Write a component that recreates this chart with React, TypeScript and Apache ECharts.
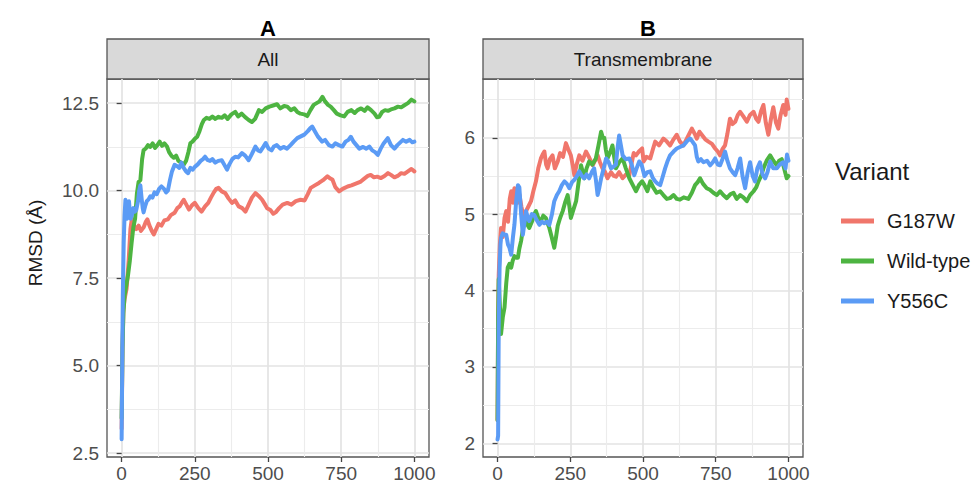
import React, { useEffect, useRef } from "react";
import * as echarts from "echarts";

const xTicks = [0, 250, 500, 750, 1000];
const xMinor = [125, 375, 625, 875];
const yTicksA = [2.5, 5.0, 7.5, 10.0, 12.5];
const yMinorA = [3.75, 6.25, 8.75, 11.25];
const yTicksB = [2, 3, 4, 5, 6];
const yMinorB = [2.5, 3.5, 4.5, 5.5, 6.5];
const variants = ["G187W", "Wild-type", "Y556C"];
const colors = ["#F0766B", "#4DB441", "#5B9BF5"];

const allG187W = [[0,3.2],[3,5.5],[6,6.6],[10,6.9],[17,7.2],[24,8.0],[30,8.9],[35,9.2],[42,9.0],[50,8.9],[58,9.0],[66,8.85],[75,8.95],[82,9.1],[88,9.18],[95,9.0],[103,8.85],[110,8.75],[118,8.9],[126,9.05],[136,9.0],[146,9.15],[158,9.18],[168,9.3],[181,9.37],[190,9.5],[198,9.55],[205,9.65],[212,9.74],[221,9.6],[230,9.46],[240,9.58],[250,9.65],[262,9.5],[273,9.4],[285,9.55],[296,9.65],[305,9.8],[315,9.95],[323,10.05],[331,10.08],[342,9.98],[354,9.93],[365,9.78],[377,9.65],[388,9.72],[400,9.55],[412,9.5],[423,9.4],[434,9.6],[445,9.8],[457,9.93],[468,9.85],[480,9.74],[490,9.6],[497,9.5],[508,9.45],[518,9.34],[526,9.38],[538,9.5],[550,9.6],[566,9.65],[580,9.6],[595,9.7],[611,9.74],[625,9.72],[636,9.9],[646,10.08],[660,10.15],[674,10.22],[688,10.3],[703,10.41],[712,10.35],[720,10.32],[730,10.1],[743,9.98],[755,10.05],[772,10.12],[785,10.15],[800,10.2],[817,10.26],[830,10.35],[841,10.42],[851,10.45],[862,10.38],[873,10.4],[886,10.36],[898,10.42],[910,10.5],[920,10.45],[932,10.38],[943,10.42],[955,10.5],[966,10.48],[978,10.55],[990,10.62],[1000,10.55]];
const allWild = [[0,3.5],[3,5.5],[6,6.5],[10,7.0],[16,7.3],[22,7.6],[28,8.0],[34,8.5],[40,8.95],[46,9.2],[52,9.9],[58,10.25],[64,10.3],[70,10.9],[75,11.16],[82,11.2],[90,11.3],[98,11.25],[106,11.35],[114,11.22],[122,11.3],[130,11.4],[138,11.28],[146,11.35],[155,11.26],[162,11.1],[170,11.0],[178,10.94],[186,11.0],[194,10.85],[203,10.8],[212,10.74],[220,10.85],[228,11.1],[235,11.36],[242,11.4],[250,11.48],[258,11.54],[266,11.7],[274,11.9],[281,12.02],[290,12.08],[300,12.05],[310,12.12],[320,12.05],[331,12.11],[342,12.08],[352,12.15],[362,12.05],[375,12.18],[388,12.25],[398,12.12],[410,12.2],[422,12.1],[434,12.02],[445,11.96],[456,12.05],[469,12.3],[480,12.25],[492,12.35],[505,12.4],[520,12.44],[531,12.47],[542,12.35],[555,12.42],[566,12.4],[578,12.3],[590,12.35],[600,12.25],[611,12.2],[623,12.18],[634,12.13],[645,12.3],[656,12.45],[666,12.5],[676,12.55],[686,12.68],[695,12.55],[705,12.45],[714,12.4],[725,12.3],[735,12.2],[748,12.15],[760,12.12],[772,12.25],[785,12.3],[796,12.22],[806,12.3],[818,12.35],[830,12.28],[840,12.38],[852,12.3],[864,12.2],[872,12.1],[880,12.11],[890,12.25],[900,12.3],[910,12.28],[920,12.32],[932,12.35],[944,12.4],[955,12.38],[966,12.44],[978,12.5],[990,12.6],[1000,12.55]];
const allY556C = [[0,2.9],[2,5.0],[4,7.0],[7,8.5],[10,9.3],[13,9.74],[16,9.6],[19,9.2],[22,9.5],[25,9.7],[28,9.4],[31,9.2],[35,9.3],[40,9.5],[45,9.4],[50,9.45],[56,9.7],[60,10.0],[64,10.15],[68,9.8],[72,9.5],[75,9.38],[80,9.55],[86,9.7],[92,9.75],[98,9.84],[105,9.8],[112,9.95],[120,9.9],[128,10.05],[136,10.12],[145,10.05],[152,9.95],[158,10.0],[165,10.3],[172,10.55],[181,10.74],[190,10.7],[197,10.65],[204,10.8],[212,10.65],[220,10.55],[227,10.5],[235,10.65],[243,10.6],[250,10.68],[260,10.75],[270,10.85],[278,10.9],[285,10.97],[293,10.88],[302,10.85],[310,10.9],[320,10.8],[330,10.85],[342,10.87],[350,10.75],[360,10.6],[368,10.75],[378,10.9],[388,10.97],[398,10.95],[411,11.07],[422,11.0],[434,10.87],[445,11.05],[457,11.26],[466,11.15],[474,11.12],[484,11.25],[492,11.36],[502,11.2],[512,11.15],[520,11.26],[530,11.3],[542,11.2],[553,11.25],[565,11.2],[577,11.3],[588,11.4],[600,11.5],[612,11.55],[624,11.6],[636,11.7],[644,11.78],[651,11.83],[660,11.7],[670,11.55],[685,11.4],[695,11.45],[708,11.3],[720,11.26],[730,11.35],[742,11.3],[754,11.26],[765,11.4],[775,11.45],[783,11.54],[792,11.4],[802,11.3],[812,11.2],[825,11.25],[836,11.2],[846,11.26],[856,11.15],[866,11.1],[875,11.02],[885,11.2],[895,11.35],[909,11.5],[920,11.3],[932,11.2],[942,11.3],[952,11.38],[961,11.45],[972,11.4],[984,11.45],[993,11.38],[1000,11.4]];

const tmG187W = [[0,2.3],[2,3.6],[4,4.2],[8,4.6],[12,4.82],[18,4.7],[24,4.95],[30,5.04],[36,4.9],[42,5.2],[47,5.3],[53,5.15],[58,5.34],[64,5.3],[70,5.15],[75,5.26],[82,5.1],[90,4.95],[98,5.04],[106,5.1],[115,5.17],[123,5.3],[132,5.43],[140,5.6],[149,5.73],[155,5.78],[161,5.82],[167,5.65],[172,5.6],[180,5.72],[189,5.77],[197,5.6],[207,5.69],[215,5.8],[225,5.75],[235,5.93],[243,5.85],[252,5.77],[258,5.65],[264,5.51],[272,5.65],[281,5.77],[292,5.7],[304,5.82],[314,5.75],[327,5.64],[335,5.7],[344,5.77],[352,5.68],[361,5.6],[370,5.55],[378,5.47],[390,5.55],[400,5.5],[407,5.49],[418,5.55],[430,5.47],[442,5.52],[453,5.51],[460,5.65],[468,5.8],[476,5.77],[486,5.82],[497,5.86],[502,5.69],[512,5.75],[525,5.73],[534,5.85],[542,5.95],[555,5.9],[570,5.99],[582,5.95],[593,5.9],[605,5.98],[616,6.04],[627,5.95],[639,5.9],[652,6.0],[668,6.12],[678,6.05],[685,5.99],[694,6.08],[702,6.04],[714,5.98],[725,5.95],[737,5.92],[748,5.86],[757,5.82],[765,5.77],[773,5.85],[782,5.9],[790,6.05],[799,6.25],[808,6.18],[817,6.21],[826,6.3],[834,6.34],[845,6.28],[857,6.21],[868,6.3],[880,6.34],[889,6.25],[897,6.21],[906,6.35],[914,6.43],[922,6.2],[931,6.04],[940,6.25],[948,6.4],[957,6.2],[965,6.12],[973,6.3],[982,6.43],[990,6.3],[994,6.5],[1000,6.38]];
const tmWild = [[0,2.3],[2,3.6],[4,4.15],[8,3.8],[12,3.43],[18,3.65],[24,3.78],[30,4.1],[35,4.3],[41,4.35],[47,4.3],[52,4.39],[58,4.45],[64,4.43],[70,4.43],[75,4.55],[81,4.65],[87,4.8],[92,4.95],[100,4.88],[109,4.82],[118,4.9],[126,5.0],[132,5.04],[140,4.95],[149,4.91],[157,4.98],[166,4.95],[172,4.88],[178,4.82],[186,4.7],[195,4.56],[201,4.7],[207,4.85],[215,4.95],[224,5.04],[232,5.15],[241,5.25],[247,5.1],[252,4.95],[260,5.05],[270,5.17],[278,5.4],[287,5.64],[293,5.55],[298,5.47],[306,5.6],[315,5.69],[326,5.65],[338,5.73],[347,5.9],[356,6.08],[362,6.0],[367,6.0],[372,5.85],[378,5.73],[386,5.8],[395,5.9],[401,5.75],[407,5.6],[418,5.68],[430,5.73],[441,5.6],[453,5.47],[465,5.38],[476,5.3],[486,5.38],[497,5.43],[505,5.38],[515,5.3],[525,5.43],[535,5.35],[547,5.28],[559,5.3],[570,5.25],[582,5.2],[593,5.21],[605,5.25],[616,5.2],[627,5.19],[640,5.22],[656,5.2],[668,5.28],[679,5.38],[688,5.42],[696,5.47],[706,5.4],[719,5.34],[730,5.32],[742,5.28],[754,5.25],[765,5.3],[776,5.25],[788,5.21],[800,5.26],[811,5.28],[822,5.2],[834,5.25],[845,5.22],[857,5.17],[868,5.25],[880,5.3],[889,5.35],[897,5.43],[906,5.5],[914,5.6],[925,5.7],[937,5.77],[948,5.7],[960,5.64],[968,5.7],[977,5.72],[985,5.6],[994,5.47],[1000,5.5]];
const tmY556C = [[0,2.05],[2,2.1],[4,3.5],[7,4.3],[10,4.6],[12,4.69],[18,4.75],[24,4.73],[30,4.73],[36,4.6],[41,4.56],[47,4.47],[53,4.7],[58,4.86],[64,5.17],[70,5.38],[75,5.35],[81,5.0],[87,4.73],[93,4.9],[98,5.04],[104,4.95],[109,4.91],[118,5.0],[126,4.99],[135,4.92],[144,4.86],[152,4.9],[161,4.88],[170,4.9],[178,4.86],[187,5.0],[195,5.17],[204,5.25],[212,5.3],[221,5.38],[230,5.43],[238,5.4],[247,5.34],[256,5.42],[264,5.45],[273,5.5],[281,5.56],[290,5.5],[298,5.47],[306,5.52],[315,5.47],[324,5.55],[332,5.6],[338,5.45],[344,5.25],[350,5.35],[356,5.47],[365,5.6],[373,5.73],[382,5.68],[390,5.6],[398,5.62],[407,5.65],[412,5.85],[418,6.03],[424,5.9],[430,5.77],[441,5.72],[453,5.73],[461,5.65],[470,5.51],[478,5.6],[487,5.69],[495,5.65],[505,5.5],[515,5.55],[525,5.56],[533,5.48],[542,5.43],[550,5.4],[559,5.38],[567,5.48],[576,5.6],[585,5.7],[593,5.77],[605,5.82],[616,5.86],[627,5.88],[639,5.9],[650,5.95],[662,5.99],[670,5.95],[679,5.9],[685,5.75],[690,5.69],[699,5.72],[708,5.68],[720,5.7],[731,5.64],[740,5.68],[748,5.73],[757,5.65],[765,5.64],[773,5.72],[782,5.82],[790,5.7],[799,5.6],[808,5.55],[817,5.51],[825,5.6],[834,5.73],[842,5.5],[851,5.34],[860,5.55],[868,5.68],[877,5.5],[885,5.43],[893,5.6],[902,5.68],[911,5.52],[920,5.47],[928,5.55],[937,5.69],[948,5.6],[960,5.6],[970,5.65],[982,5.68],[990,5.6],[995,5.78],[1000,5.7]];

const FONT = "Liberation Sans, Arial, Helvetica, sans-serif";

export default function App() {
  const ref = useRef<HTMLDivElement>(null);
  useEffect(() => {
    if (!ref.current) return;
    const chart = echarts.init(ref.current, undefined, { renderer: "svg" });
    const gridA = { left: 107, top: 79, width: 322, height: 378 };
    const gridB = { left: 483, top: 79, width: 320, height: 378 };

    const majorX = (gi: number) => ({
      type: "value", gridIndex: gi, min: -50, max: 1050,
      axisLine: { show: false },
      axisTick: { show: true, length: 5, customValues: xTicks, lineStyle: { color: "#444", width: 1.3 } },
      axisLabel: { show: true, customValues: xTicks, margin: 7, fontSize: 19, color: "#4d4d4d", fontFamily: FONT, formatter: (v: number) => String(v) },
      splitLine: { show: true, lineStyle: { color: "#e3e3e3", width: 1.7 } },
    });
    const minorX = (gi: number) => ({
      type: "value", gridIndex: gi, min: -50, max: 1050, position: "bottom",
      axisLine: { show: false },
      axisTick: { show: false, customValues: xMinor },
      axisLabel: { show: false },
      splitLine: { show: true, lineStyle: { color: "#ececec", width: 1.1 } },
    });
    const majorY = (gi: number, min: number, max: number, ticks: number[], fmt: (v: number) => string) => ({
      type: "value", gridIndex: gi, min, max,
      axisLine: { show: false },
      axisTick: { show: true, length: 5, customValues: ticks, lineStyle: { color: "#444", width: 1.3 } },
      axisLabel: { show: true, customValues: ticks, margin: 8, fontSize: 19, color: "#4d4d4d", fontFamily: FONT, formatter: fmt },
      splitLine: { show: true, lineStyle: { color: "#e3e3e3", width: 1.7 } },
    });
    const minorY = (gi: number, min: number, max: number, ticks: number[]) => ({
      type: "value", gridIndex: gi, min, max, position: "left",
      axisLine: { show: false },
      axisTick: { show: false, customValues: ticks },
      axisLabel: { show: false },
      splitLine: { show: true, lineStyle: { color: "#ececec", width: 1.1 } },
    });

    const panelA = [allG187W, allWild, allY556C];
    const panelB = [tmG187W, tmWild, tmY556C];
    const mk = (data: number[][], i: number, xi: number, yi: number) => ({
      type: "line", name: variants[i], data, xAxisIndex: xi, yAxisIndex: yi,
      showSymbol: false, symbol: "none", smooth: false, z: 3,
      lineStyle: { color: colors[i], width: 4, cap: "round", join: "round" },
      itemStyle: { color: colors[i] },
    });

    const option: any = {
      animation: false,
      backgroundColor: "#ffffff",
      textStyle: { fontFamily: FONT },
      grid: [
        { ...gridA, show: true, borderColor: "#555", borderWidth: 1.3, backgroundColor: "#fff" },
        { ...gridB, show: true, borderColor: "#555", borderWidth: 1.3, backgroundColor: "#fff" },
      ],
      xAxis: [majorX(0), minorX(0), majorX(1), minorX(1)],
      yAxis: [
        majorY(0, 2.39, 13.19, yTicksA, (v: number) => v.toFixed(1)),
        minorY(0, 2.39, 13.19, yMinorA),
        majorY(1, 1.82, 6.77, yTicksB, (v: number) => String(v)),
        minorY(1, 1.82, 6.77, yMinorB),
      ],
      legend: {
        orient: "vertical", left: 836, top: 205, icon: "rect",
        itemWidth: 33, itemHeight: 5, itemGap: 18,
        data: variants,
        textStyle: { fontSize: 20, color: "#1a1a1a", fontFamily: FONT, lineHeight: 22, padding: [0, 0, 0, 8] },
      },
      graphic: [
        { type: "rect", shape: { x: 107, y: 39, width: 322, height: 40 }, style: { fill: "#d9d9d9", stroke: "#555", lineWidth: 1.3 } },
        { type: "text", x: 268, y: 59, style: { text: "All", fontSize: 19, fill: "#1a1a1a", align: "center", verticalAlign: "middle", fontFamily: FONT } },
        { type: "rect", shape: { x: 483, y: 39, width: 320, height: 40 }, style: { fill: "#d9d9d9", stroke: "#555", lineWidth: 1.3 } },
        { type: "text", x: 643, y: 59, style: { text: "Transmembrane", fontSize: 19, fill: "#1a1a1a", align: "center", verticalAlign: "middle", fontFamily: FONT } },
        { type: "text", x: 268, y: 28, z: 10, style: { text: "A", fontSize: 22, fontWeight: "bold", fill: "#000", align: "center", verticalAlign: "middle", fontFamily: FONT } },
        { type: "text", x: 648, y: 28, z: 10, style: { text: "B", fontSize: 22, fontWeight: "bold", fill: "#000", align: "center", verticalAlign: "middle", fontFamily: FONT } },
        { type: "text", x: 35, y: 243, rotation: Math.PI / 2, style: { text: "RMSD (Å)", fontSize: 19, fill: "#1a1a1a", align: "center", verticalAlign: "middle", fontFamily: FONT } },
        { type: "text", x: 835, y: 171, style: { text: "Variant", fontSize: 24, fill: "#1a1a1a", align: "left", verticalAlign: "middle", fontFamily: FONT } },
      ],
      series: [
        ...panelA.map((d, i) => mk(d, i, 0, 0)),
        ...panelB.map((d, i) => mk(d, i, 2, 2)),
      ],
    };
    chart.setOption(option);
    return () => chart.dispose();
  }, []);
  return <div ref={ref} style={{ position: "absolute", left: 0, top: 0, width: 974, height: 485 }} />;
}
